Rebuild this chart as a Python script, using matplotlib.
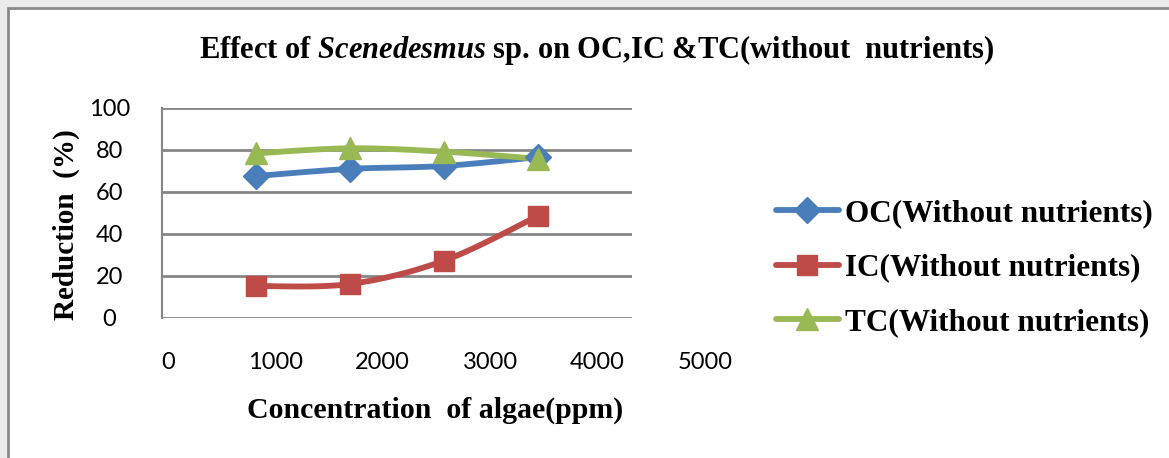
import numpy as np
import matplotlib
matplotlib.use("Agg")
import matplotlib.pyplot as plt
from matplotlib.patches import Rectangle

# reduction (%) vs algae concentration (ppm)
concentration = [1000, 2000, 3000, 4000]
oc_reduction = [67.6, 71.0, 72.4, 76.6]
ic_reduction = [15.2, 16.2, 27.3, 48.6]
tc_reduction = [78.4, 80.8, 79.2, 75.8]
series_labels = ["OC(Without nutrients)", "IC(Without nutrients)", "TC(Without nutrients)"]
x_ticks = [0, 1000, 2000, 3000, 4000, 5000]
y_ticks = [0, 20, 40, 60, 80, 100]

SERIF = "Liberation Serif"
SANS = "Lato"
plt.rcParams["mathtext.fontset"] = "custom"
plt.rcParams["mathtext.it"] = SERIF + ":italic:bold"
plt.rcParams["mathtext.rm"] = SERIF + ":bold"


def smooth(xs, ys, n=40):
    # Excel-style smoothed line: cubic Bezier segments, control points from neighbours
    xs = np.asarray(xs, float)
    ys = np.asarray(ys, float)
    px, py = [], []
    for i in range(len(xs) - 1):
        x0, y0 = (xs[i - 1], ys[i - 1]) if i > 0 else (xs[i], ys[i])
        x3, y3 = (xs[i + 2], ys[i + 2]) if i + 2 < len(xs) else (xs[i + 1], ys[i + 1])
        p1 = np.array([xs[i], ys[i]])
        p2 = np.array([xs[i + 1], ys[i + 1]])
        c1 = p1 + (p2 - np.array([x0, y0])) / 6
        c2 = p2 - (np.array([x3, y3]) - p1) / 6
        t = np.linspace(0, 1, n)[:, None]
        b = (1 - t) ** 3 * p1 + 3 * (1 - t) ** 2 * t * c1 + 3 * (1 - t) * t ** 2 * c2 + t ** 3 * p2
        px.extend(b[:, 0])
        py.extend(b[:, 1])
    return px, py


fig = plt.figure(figsize=(11.69, 4.58), dpi=100)
fig.patch.set_facecolor("#ebebeb")
# white chart area with grey frame
fig.patches.append(Rectangle((8 / 1169, -0.01), 1, 1.01 - 8 / 458, transform=fig.transFigure,
                             facecolor="white", edgecolor="#8a8a8a", linewidth=2, zorder=-5))

ax = fig.add_axes([162 / 1169, 1 - 318 / 458, 470 / 1169, 210 / 458])
ax.set_facecolor("none")
ax.set_xlim(0, 5000)
ax.set_ylim(0, 100)

styles = [
    (oc_reduction, "#4a7ebb", "D", 13),
    (ic_reduction, "#be4b48", "s", 14),
    (tc_reduction, "#98b954", "^", 16),
]
handles = []
for (vals, color, marker, ms), label in zip(styles, series_labels):
    sx, sy = smooth(concentration, vals)
    ax.plot(sx, sy, color=color, linewidth=4.2, solid_capstyle="round", zorder=3)
    ax.plot(concentration, vals, linestyle="none", marker=marker, markersize=ms,
            color=color, zorder=4, clip_on=False)
    h, = ax.plot([], [], color=color, linewidth=4.2, marker=marker, markersize=ms,
                 solid_capstyle="round", label=label)
    handles.append(h)

ax.set_yticks(y_ticks)
ax.yaxis.grid(True, color="#868686", linewidth=2)
ax.set_axisbelow(True)
for side in ["top", "right", "bottom"]:
    ax.spines[side].set_visible(False)
ax.spines["left"].set_color("#868686")
ax.spines["left"].set_linewidth(1.5)
ax.tick_params(axis="y", length=0, pad=38, labelsize=17)
for t in ax.get_yticklabels():
    t.set_fontfamily(SANS)
    t.set_horizontalalignment("center")

# category-style labels along the bottom, spaced wider than the plotted scale
ax.set_xticks([])
for i, v in enumerate(x_ticks):
    ax.text((168 - 162 + 107.4 * i) / 470, -0.21, str(v), transform=ax.transAxes,
            ha="center", va="center", fontsize=17, fontfamily=SANS)

fig.text(597 / 1169, 1 - 50 / 458,
         r"Effect of $Scenedesmus$ sp. on OC,IC &TC(without  nutrients)",
         ha="center", va="center", fontsize=22, fontweight="bold", fontfamily=SERIF)
fig.text(435 / 1169, 1 - 410 / 458, "Concentration  of algae(ppm)",
         ha="center", va="center", fontsize=21.5, fontweight="bold", fontfamily=SERIF)
fig.text(66 / 1169, 1 - 225 / 458, "Reduction  (%)", rotation=90,
         ha="center", va="center", fontsize=21, fontweight="bold", fontfamily=SERIF)

leg = fig.legend(handles=handles, loc="center left", bbox_to_anchor=(776 / 1169, 1 - 268 / 458),
                 frameon=False, borderpad=0, borderaxespad=0, handlelength=2.0,
                 handletextpad=0.2, labelspacing=0.82,
                 prop={"family": SERIF, "weight": "bold", "size": 22.5})

fig.savefig("out.png", dpi=100, facecolor=fig.get_facecolor())
